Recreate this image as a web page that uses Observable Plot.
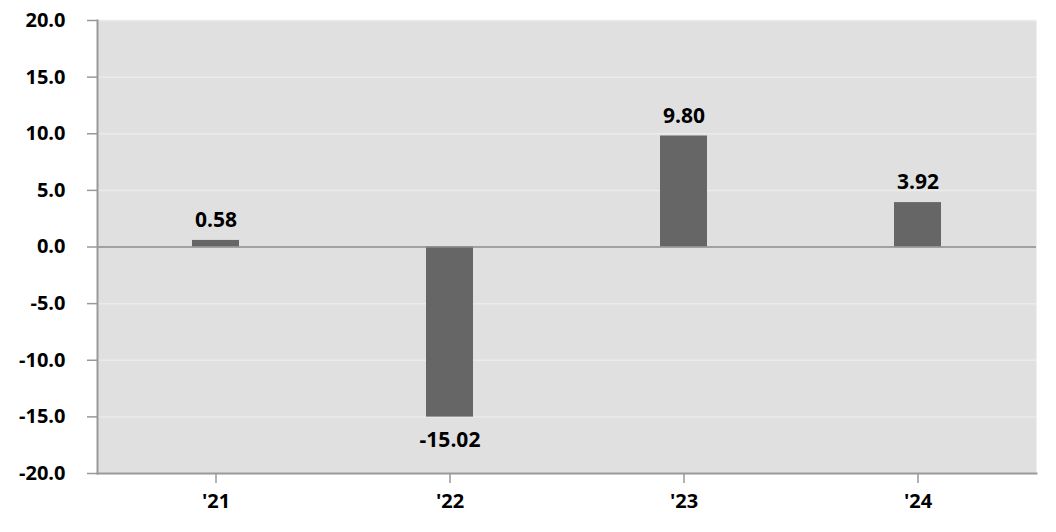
<!DOCTYPE html>
<html>
<head>
<meta charset="utf-8">
<script src="https://cdn.jsdelivr.net/npm/d3@7"></script>
<script src="https://cdn.jsdelivr.net/npm/@observablehq/plot@0.6"></script>
<style>
  html, body { margin: 0; padding: 0; background: #ffffff; }
  #chart svg { display: block; font-family: "Open Sans", sans-serif; }
</style>
</head>
<body>
<div id="chart"></div>
<script>
const categories = ["'21", "'22", "'23", "'24"];
const values = [0.58, -15.02, 9.80, 3.92];
const yTicks = [-20, -15, -10, -5, 0, 5, 10, 15, 20];

const data = categories.map((c, i) => ({ cat: c, value: values[i] }));
const fmt = v => v.toFixed(1).replace("\u2212", "-");

const chart = Plot.plot({
  width: 1056,
  height: 532,
  marginLeft: 97,
  marginRight: 20,
  marginTop: 20,
  marginBottom: 59,
  style: { fontFamily: "Open Sans, sans-serif", background: "#ffffff" },
  x: { domain: categories, paddingInner: 0.8, paddingOuter: 0.4, label: null, axis: null },
  y: { domain: [-20, 20], label: null, axis: null },
  marks: [
    Plot.frame({ fill: "#e0e0e0", stroke: null }),
    Plot.gridY(yTicks, { stroke: "#ebebeb", strokeOpacity: 1, strokeWidth: 1.5 }),
    Plot.barY(data, { x: "cat", y: "value", fill: "#666666" }),
    Plot.ruleY([0], { stroke: "#8a8a8a", strokeWidth: 1.5 }),
    Plot.axisY(yTicks, {
      tickFormat: fmt, tickSize: 10, tickPadding: 22, stroke: "#999999", strokeWidth: 1.5,
      fontSize: 20, fontWeight: "bold", fill: "#000000", label: null
    }),
    Plot.axisX(categories, {
      tickSize: 10, tickPadding: 10, stroke: "#999999", strokeWidth: 1.5,
      fontSize: 20, fontWeight: "bold", fill: "#000000", label: null
    }),
    Plot.frame({ anchor: "bottom", stroke: "#999999", strokeWidth: 2 }),
    Plot.frame({ anchor: "left", stroke: "#999999", strokeWidth: 2 }),
    Plot.text(data, {
      x: "cat", y: "value", text: d => d.value.toFixed(2),
      fontSize: 21, fontWeight: "bold", fill: "#000000",
      filter: d => d.value >= 0, dy: -20
    }),
    Plot.text(data, {
      x: "cat", y: "value", text: d => d.value.toFixed(2).replace("\u2212", "-"),
      fontSize: 21, fontWeight: "bold", fill: "#000000",
      filter: d => d.value < 0, dy: 23
    })
  ]
});
document.getElementById("chart").appendChild(chart);
</script>
</body>
</html>
